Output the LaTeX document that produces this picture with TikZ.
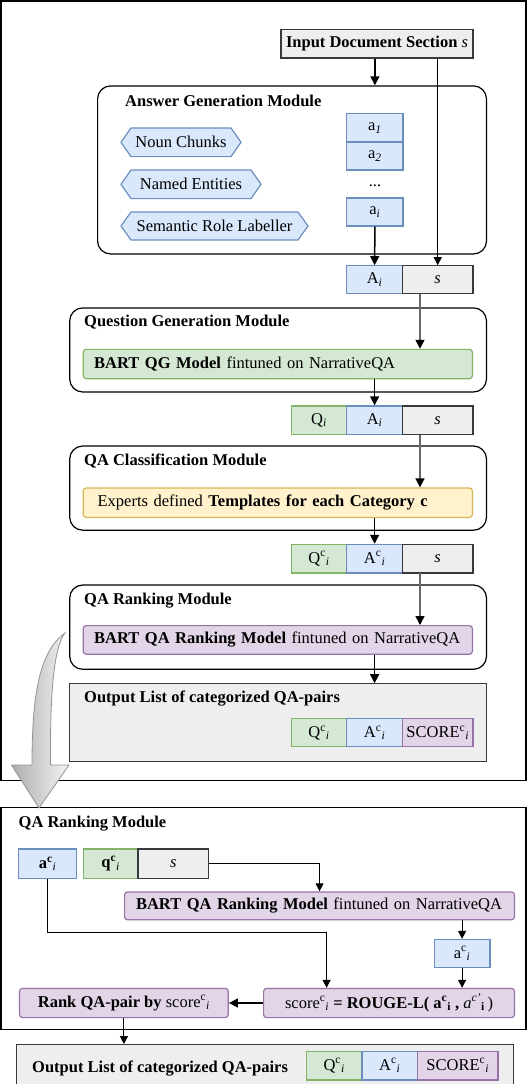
\documentclass[tikz,border=0pt]{standalone}
\usepackage{fontspec}
\setmainfont{Liberation Serif}
\usetikzlibrary{arrows.meta,calc}
\definecolor{blueF}{HTML}{DAE8FC}\definecolor{blueD}{HTML}{6C8EBF}
\definecolor{greenF}{HTML}{D5E8D4}\definecolor{greenD}{HTML}{82B366}
\definecolor{yellowF}{HTML}{FFF2CC}\definecolor{yellowD}{HTML}{D6B656}
\definecolor{purpleF}{HTML}{E1D5E7}\definecolor{purpleD}{HTML}{9673A6}
\definecolor{grayF}{HTML}{EEEEEE}\definecolor{grayD}{HTML}{36393D}
\definecolor{grayL}{HTML}{666666}
\tikzset{
  mod/.style={draw=black, line width=1.2pt, rounded corners=13pt, fill=white, inner sep=0pt},
  outerbox/.style={draw=black, line width=1.5pt},
  cbox/.style={line width=1.2pt, inner sep=0pt},
  bluebox/.style={cbox, fill=blueF, draw=blueD},
  greenbox/.style={cbox, fill=greenF, draw=greenD},
  yellowbox/.style={cbox, fill=yellowF, draw=yellowD},
  purplebox/.style={cbox, fill=purpleF, draw=purpleD},
  graybox/.style={cbox, fill=grayF, draw=grayD},
  outbox/.style={cbox, fill=grayF, draw=grayD},
  bar/.style={rounded corners=3pt, align=left},
  hexs/.style={fill=blueF, draw=blueD, line width=1.2pt},
  title/.style={anchor=west, font=\bfseries, inner sep=0pt},
  txt/.style={inner sep=0pt},
  arr/.style={-{Triangle[width=9pt,length=9pt]}, line width=1.5pt, draw=black},
  garr/.style={-{Triangle[width=9pt,length=9pt,color=black]}, line width=1.5pt, draw=grayL},
  tarr/.style={-{Triangle[width=8pt,length=8pt]}, line width=1.1pt, draw=black},
  tline/.style={line width=1.1pt, draw=black}
}
\newcommand{\boxat}[7]{\node[#2, minimum width={#5-#3}, minimum height={#6-#4}, anchor=center] (#1) at ({(#3+#5)/2},{(#4+#6)/2}) {#7};}
\newcommand{\hexat}[6]{%
  \draw[hexs] (#2,{(#3+#5)/2}) -- ({#2+10},#3) -- ({#4-10},#3) -- (#4,{(#3+#5)/2}) -- ({#4-10},#5) -- ({#2+10},#5) -- cycle;
  \node[txt] (#1) at ({(#2+#4)/2},{(#3+#5)/2}) {#6};}
\newcommand{\Qci}{Q\textsuperscript{c}\textsubscript{\textit{i}}}
\newcommand{\Aci}{A\textsuperscript{c}\textsubscript{\textit{i}}}
\newcommand{\Sci}{SCORE\textsuperscript{c}\textsubscript{\textit{i}}}
\begin{document}
\fontsize{16.5}{19}\selectfont
\begin{tikzpicture}[x=1pt,y=-1pt]
\useasboundingbox (0,0) rectangle (528,1084);
% ---------- upper frame ----------
\draw[outerbox] (1,1) rectangle (526,780.5);
\boxat{inp}{graybox,font=\bfseries}{281}{29.6}{473}{57.9}{Input Document Section \textit{\mdseries s}}
% Answer generation module
\boxat{agm}{mod}{97.6}{85.9}{486.5}{254}{}
\node[title] (agmt) at (125,101) {Answer Generation Module};
\hexat{noun}{121}{128}{241}{156.6}{Noun Chunks}
\hexat{ner}{121}{170}{261}{198.6}{Named Entities}
\hexat{srl}{121}{212}{308}{240}{Semantic Role Labeller}
\boxat{aone}{bluebox}{346.8}{113.8}{403}{142}{a\textsubscript{\textit{1}}}
\boxat{atwo}{bluebox}{346.8}{142}{403}{170}{a\textsubscript{\textit{2}}}
\node[txt] (dots) at (375,186) {...};
\boxat{ai}{bluebox}{346.8}{198}{403}{226}{a\textsubscript{\textit{i}}}
% row 1
\boxat{rA}{bluebox}{346.8}{265.8}{402.4}{293.8}{A\textsubscript{\textit{i}}}
\boxat{rS}{graybox}{402.4}{265.8}{473}{293.8}{\textit{s}}
% Question generation module
\boxat{qgm}{mod}{69.7}{307.9}{486.5}{392}{}
\node[title] (qgmt) at (84,322.4) {Question Generation Module};
\node[greenbox, bar, inner xsep=11pt, text width=367.2pt, minimum height=29.3pt] (qg) at (277.8,364) {\textbf{BART QG Model} fintuned on NarrativeQA};
% row 2
\boxat{sQ}{greenbox}{291.2}{405.9}{346.8}{434.5}{Q\textsubscript{\textit{i}}}
\boxat{sA}{bluebox}{346.8}{405.9}{402.4}{434.5}{A\textsubscript{\textit{i}}}
\boxat{sS}{graybox}{402.4}{405.9}{473}{434.5}{\textit{s}}
% QA classification module
\boxat{qac}{mod}{69.7}{446}{486.5}{530.2}{}
\node[title] (qact) at (84,461) {QA Classification Module};
\node[yellowbox, bar, inner xsep=14.4pt, text width=360.4pt, minimum height=29.4pt] (tpl) at (277.8,502.7) {Experts defined \textbf{Templates for each Category c}};
% row 3
\boxat{tQ}{greenbox}{291.2}{544.4}{346.8}{573}{\Qci}
\boxat{tA}{bluebox}{346.8}{544.4}{402.4}{573}{\Aci}
\boxat{tS}{graybox}{402.4}{544.4}{473}{573}{\textit{s}}
% QA ranking module
\boxat{qar}{mod}{69.7}{585}{486.5}{669.3}{}
\node[title] (qart) at (84,600.3) {QA Ranking Module};
\node[purplebox, bar, inner xsep=11pt, text width=367.2pt, minimum height=28.6pt] (rk) at (277.8,639.9) {\textbf{BART QA Ranking Model} fintuned on NarrativeQA};
% output list
\boxat{out}{outbox}{69.7}{683.8}{486.5}{761.2}{}
\node[title] (outt) at (84,699) {Output List of categorized QA-pairs};
\boxat{uQ}{greenbox}{291.2}{718.8}{346.8}{746.8}{\Qci}
\boxat{uA}{bluebox}{346.8}{718.8}{402.4}{746.8}{\Aci}
\boxat{uS}{purplebox}{402.4}{718.8}{473}{746.8}{\Sci}
% upper connectors
\draw[arr] (aone |- inp.south) -- (aone |- agm.north);
\draw[tarr] (rS |- inp.south) -- (rS.north);
\draw[arr] (ai.south) -- (rA.north);
\coordinate (g1) at (420,293.8);
\draw[garr] (g1) -- (g1 |- qg.north);
\draw[arr] (sA |- qg.south) -- (sA.north);
\coordinate (g2) at (420,434.5);
\draw[garr] (g2) -- (g2 |- tpl.north);
\draw[arr] (tA |- tpl.south) -- (tA.north);
\coordinate (g3) at (420,573);
\draw[garr] (g3) -- (g3 |- rk.north);
\draw[arr] (uA |- rk.south) -- (uA |- out.north);
% ---------- lower frame ----------
\draw[outerbox] (1,807.7) rectangle (526,1029.4);
\node[title] (lt) at (18.5,824) {QA Ranking Module};
\boxat{lA}{bluebox,font=\bfseries}{18.5}{849}{76.8}{878.4}{a\textsuperscript{c}\textsubscript{\textit{\mdseries i}}}
\boxat{lQ}{greenbox,font=\bfseries}{83.2}{849}{138}{878.4}{q\textsuperscript{c}\textsubscript{\textit{\mdseries i}}}
\boxat{lS}{graybox}{138}{849}{208.8}{878.4}{\textit{s}}
\node[purplebox, bar, inner xsep=11.4pt, text width=367.1pt, minimum height=27.9pt] (rk2) at (319.55,905.85) {\textbf{BART QA Ranking Model} fintuned on NarrativeQA};
\boxat{ap}{bluebox}{434.3}{939.5}{489.9}{967.8}{a\textsuperscript{c}\textsubscript{\textit{i}}}
\node[purplebox, rounded corners=3pt, minimum width=250.9pt, minimum height=29.2pt] (sc) at (389.05,1003) {score\textsuperscript{c}\textsubscript{\textit{i}} \textbf{= ROUGE-L( a\textsuperscript{c}\textsubscript{i} ,}\ \textit{a}\textsuperscript{\textit{c'}}\textsubscript{\textbf{i}}\,)};
\node[purplebox, rounded corners=3pt, minimum width=208.8pt, minimum height=29.2pt] (rank) at (123.9,1003) {\textbf{Rank QA-pair by} score\textsuperscript{c}\textsubscript{\textit{i}}};
\boxat{out2}{outbox}{16.8}{1044.6}{513.5}{1100}{}
\node[title] (out2t) at (32,1068) {Output List of categorized QA-pairs};
\boxat{vQ}{greenbox}{306.4}{1051.3}{362}{1080}{\Qci}
\boxat{vA}{bluebox}{362}{1051.3}{417.5}{1080}{\Aci}
\boxat{vS}{purplebox}{417.5}{1051.3}{498}{1080}{\Sci}
% lower connectors
\draw[tarr] (lS.east) -| (rk2.north);
\coordinate (k1) at (326.6,932.8);
\draw[tarr] (lA.south) |- (k1) -- (k1 |- sc.north);
\draw[tarr] (ap |- rk2.south) -- (ap.north);
\draw[tarr] (ap.south) -- (ap |- sc.north);
\draw[arr] (sc.west) -- (rank.east);
\draw[tarr] (rank.south) -- (rank.south |- out2.north);
% ---------- big curved arrow ----------
\path[draw=gray!85, line width=0.8pt, left color=gray!65, right color=gray!8]
  (65,633) .. controls (53,648) and (50,700) .. (50.5,765) -- (69,765) -- (39,808) -- (11.5,765) -- (32,765)
  .. controls (32,700) and (38,652) .. (65,633) -- cycle;
\end{tikzpicture}
\end{document}
